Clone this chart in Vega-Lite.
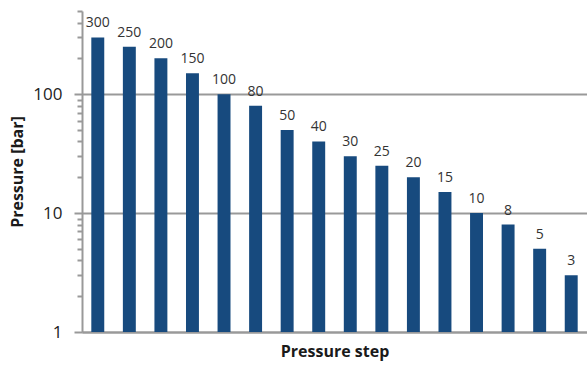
{
  "$schema": "https://vega.github.io/schema/vega-lite/v6.json",
  "autosize": "none",
  "width": 505,
  "height": 321,
  "padding": {"left": 82, "top": 11, "right": 0, "bottom": 33},
  "background": "white",
  "config": {
    "view": {"stroke": null},
    "font": "Open Sans"
  },
  "data": {
    "values": [
      {"step": "1", "pressure": 300},
      {"step": "2", "pressure": 250},
      {"step": "3", "pressure": 200},
      {"step": "4", "pressure": 150},
      {"step": "5", "pressure": 100},
      {"step": "6", "pressure": 80},
      {"step": "7", "pressure": 50},
      {"step": "8", "pressure": 40},
      {"step": "9", "pressure": 30},
      {"step": "10", "pressure": 25},
      {"step": "11", "pressure": 20},
      {"step": "12", "pressure": 15},
      {"step": "13", "pressure": 10},
      {"step": "14", "pressure": 8},
      {"step": "15", "pressure": 5},
      {"step": "16", "pressure": 3}
    ]
  },
  "resolve": {"axis": {"y": "independent"}},
  "layer": [
    {
      "mark": {"type": "bar", "color": "#174a7e"},
      "encoding": {
        "x": {
          "field": "step",
          "type": "ordinal",
          "sort": null,
          "scale": {"type": "band", "paddingInner": 0.59, "paddingOuter": 0.295},
          "axis": {
            "title": "Pressure step",
            "labels": false,
            "ticks": false,
            "domainColor": "#999999",
            "domainWidth": 2,
            "titleFont": "Open Sans",
            "titleFontSize": 16,
            "titleFontWeight": "bold",
            "titleColor": "#1a1a1a",
            "titlePadding": 11
          }
        },
        "y": {
          "field": "pressure",
          "type": "quantitative",
          "scale": {"type": "log", "domain": [1, 500], "nice": false},
          "axis": {
            "orient": "left",
            "title": "Pressure [bar]",
            "values": [1, 10, 100],
            "labelFont": "Open Sans",
            "labelFontSize": 17,
            "labelColor": "#222222",
            "labelPadding": 12,
            "labelOverlap": false,
            "labelFlush": false,
            "tickColor": "#999999",
            "tickWidth": 2,
            "tickSize": 8,
            "grid": true,
            "gridColor": "#999999",
            "gridWidth": 2,
            "domainColor": "#999999",
            "domainWidth": 2,
            "titleFont": "Open Sans",
            "titleFontSize": 16,
            "titleFontWeight": "bold",
            "titleColor": "#1a1a1a",
            "titlePadding": 7
          }
        },
        "y2": {"datum": 1}
      }
    },
    {
      "mark": {"type": "text", "dy": -10, "baseline": "alphabetic", "fontSize": 14, "color": "#333333", "font": "Open Sans"},
      "encoding": {
        "x": {"field": "step", "type": "ordinal", "sort": null},
        "y": {
          "field": "pressure",
          "type": "quantitative",
          "axis": {
            "orient": "left",
            "offset": 0,
            "title": null,
            "values": [2, 3, 4, 5, 6, 7, 8, 9, 20, 30, 40, 50, 60, 70, 80, 90, 200, 300, 400, 500],
            "labels": false,
            "grid": false,
            "domain": false,
            "tickColor": "#999999",
            "tickWidth": 2,
            "tickSize": 5
          }
        },
        "text": {"field": "pressure", "type": "quantitative"}
      }
    }
  ]
}
